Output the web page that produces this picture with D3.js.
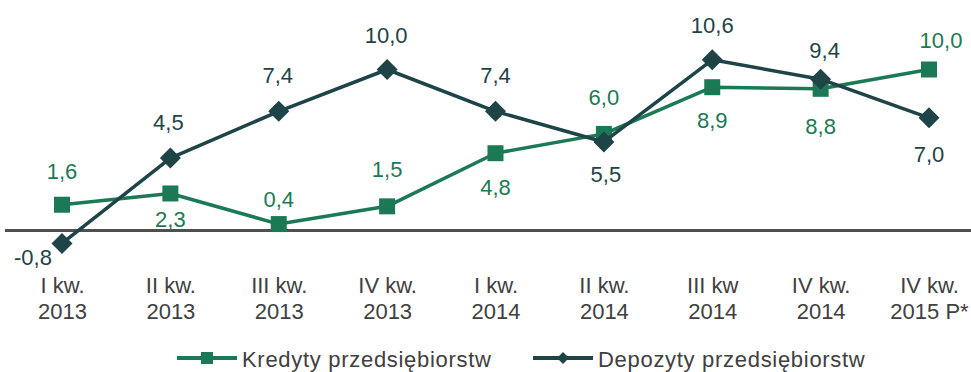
<!DOCTYPE html>
<html>
<head>
<meta charset="utf-8">
<script src="https://cdn.jsdelivr.net/npm/d3@7"></script>
<style>
  html, body { margin: 0; padding: 0; background: #ffffff; }
  svg { display: block; font-family: "Liberation Sans", Arial, sans-serif; }
</style>
</head>
<body>
<svg id="chart" width="971" height="372"></svg>
<script>
// Quarterly dynamics, % y/y
const categories = [
  ["I kw.", "2013"], ["II kw.", "2013"], ["III kw.", "2013"], ["IV kw.", "2013"],
  ["I kw.", "2014"], ["II kw.", "2014"], ["III kw", "2014"], ["IV kw.", "2014"],
  ["IV kw.", "2015 P*"]
];
const kredyty = [1.6, 2.3, 0.4, 1.5, 4.8, 6.0, 8.9, 8.8, 10.0];
const depozyty = [-0.8, 4.5, 7.4, 10.0, 7.4, 5.5, 10.6, 9.4, 7.0];
const seriesNames = ["Kredyty przedsiębiorstw", "Depozyty przedsiębiorstw"];

// label placement around each point: [dx, dy to baseline]
const kredytyLabelPos = [[0,-26],[0,34],[0,-17],[0,-29],[0,42],[0,-29],[0,41],[0,45],[12,-22]];
const depozytyLabelPos = [[-29,22],[-2,-28],[-1,-28],[-1,-27],[0,-28],[2,40],[0,-27],[4,-21],[0,44]];

const GREEN = "#1b7a55";
const DARK = "#1e4447";
const GREY = "#404040";

const svg = d3.select("#chart");
const keys = categories.map((c, i) => i);

const x = d3.scalePoint().domain(keys).range([62, 929]);
const y = d3.scaleLinear().domain([-1, 11]).range([246.6, 53.4]);

// zero baseline
svg.append("line")
  .attr("x1", 5).attr("x2", 971)
  .attr("y1", y(0)).attr("y2", y(0))
  .attr("stroke", "#4f4f4f").attr("stroke-width", 3);

// category axis (two-line labels, no ticks)
const axis = svg.append("g").attr("transform", "translate(0,293)")
  .call(d3.axisBottom(x).tickSize(0).tickFormat(""));
axis.select(".domain").remove();
axis.selectAll(".tick").each(function(d) {
  const t = d3.select(this).append("text")
    .attr("fill", GREY).attr("font-size", 22).attr("text-anchor", "middle");
  t.append("tspan").attr("x", 0).attr("y", 0).text(categories[d][0]);
  t.append("tspan").attr("x", 0).attr("y", 26).text(categories[d][1]);
});

const line = d3.line().x((d, i) => x(i)).y(d => y(d));
const fmt = v => d3.format(".1f")(v).replace(".", ",").replace("−", "-");

function drawSeries(values, color, marker, labelPos) {
  const g = svg.append("g");
  g.append("path").datum(values)
    .attr("d", line).attr("fill", "none")
    .attr("stroke", color).attr("stroke-width", 3.5).attr("stroke-linejoin", "round");
  g.selectAll("path.m").data(values).join("path").attr("class", "m")
    .attr("d", marker)
    .attr("transform", (d, i) => `translate(${x(i)},${y(d)})`)
    .attr("fill", color);
  g.selectAll("text").data(values).join("text")
    .attr("x", (d, i) => x(i) + labelPos[i][0])
    .attr("y", (d, i) => y(d) + labelPos[i][1])
    .attr("text-anchor", "middle").attr("font-size", 22).attr("fill", color)
    .text(d => fmt(d));
}

const squareMarker = "M-8,-8H8V8H-8Z";
const diamondMarker = "M0,-10.5L10.5,0L0,10.5L-10.5,0Z";

drawSeries(kredyty, GREEN, squareMarker, kredytyLabelPos);
drawSeries(depozyty, DARK, diamondMarker, depozytyLabelPos);

// legend
const legend = svg.append("g").attr("transform", "translate(0,358)");
const legendItems = [
  { name: seriesNames[0], color: GREEN, x0: 177, marker: "M-6,-6H6V6H-6Z" },
  { name: seriesNames[1], color: DARK, x0: 533, marker: "M0,-6L6,0L0,6L-6,0Z" }
];
legendItems.forEach(it => {
  legend.append("line").attr("x1", it.x0).attr("x2", it.x0 + 60)
    .attr("y1", 0).attr("y2", 0)
    .attr("stroke", it.color).attr("stroke-width", 4);
  legend.append("path").attr("d", it.marker)
    .attr("transform", `translate(${it.x0 + 30},0)`).attr("fill", it.color);
  legend.append("text").attr("x", it.x0 + 65).attr("y", 9)
    .attr("font-size", 22).attr("letter-spacing", 0.7).attr("fill", GREY)
    .text(it.name);
});
</script>
</body>
</html>
